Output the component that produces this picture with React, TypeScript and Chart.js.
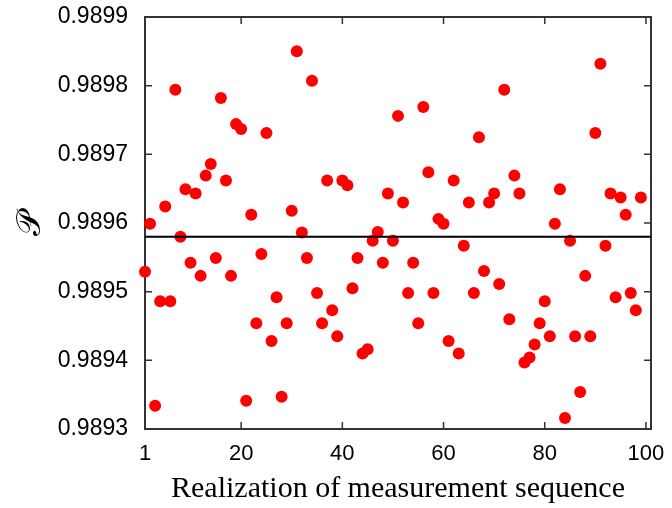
import { useEffect, useRef } from "react";
import { Chart, registerables } from "chart.js";

Chart.register(...registerables);

// Fidelity value for each realization (x = 1 .. 99)
const fidelity: number[] = [
  0.989529, 0.989599, 0.989334, 0.989486, 0.989624, 0.989486, 0.989794, 0.98958, 0.989649, 0.989542,
  0.989643, 0.989523, 0.989669, 0.989686, 0.989549, 0.989782, 0.989662, 0.989523, 0.989744, 0.989737,
  0.989341, 0.989612, 0.989454, 0.989555, 0.989731, 0.989428, 0.989492, 0.989347, 0.989454, 0.989618,
  0.98985, 0.989586, 0.989549, 0.989807, 0.989498, 0.989454, 0.989662, 0.989473, 0.989435, 0.989662,
  0.989655, 0.989505, 0.989549, 0.98941, 0.989416, 0.989574, 0.989587, 0.989542, 0.989643, 0.989574,
  0.989756, 0.98963, 0.989498, 0.989542, 0.989454, 0.989769, 0.989674, 0.989498, 0.989606, 0.989599,
  0.989428, 0.989662, 0.98941, 0.989567, 0.98963, 0.989498, 0.989725, 0.98953, 0.98963, 0.989643,
  0.989511, 0.989794, 0.98946, 0.989669, 0.989643, 0.989397, 0.989404, 0.989423, 0.989454, 0.989486,
  0.989435, 0.989599, 0.989649, 0.989316, 0.989574, 0.989435, 0.989354, 0.989523, 0.989435, 0.989731,
  0.989832, 0.989567, 0.989643, 0.989492, 0.989637, 0.989612, 0.989498, 0.989473, 0.989637,
];
const realization: number[] = fidelity.map((_, i) => i + 1);
const meanFidelity = 0.98958;
const xTicks = [1, 20, 40, 60, 80, 100];
const yTicks = [0.9893, 0.9894, 0.9895, 0.9896, 0.9897, 0.9898, 0.9899];
const xRange = [1, 101];
const yRange = [0.9893, 0.9899];

const framePlugin = {
  id: "frame",
  beforeDatasetsDraw(chart: any) {
    const { ctx, chartArea: a, scales } = chart;
    const tl = 7;
    ctx.save();
    ctx.strokeStyle = "#333333";
    ctx.lineWidth = 1.5;
    ctx.beginPath();
    for (const v of yTicks) {
      const y = scales.y.getPixelForValue(v);
      ctx.moveTo(a.left, y);
      ctx.lineTo(a.left + tl, y);
      ctx.moveTo(a.right, y);
      ctx.lineTo(a.right - tl, y);
    }
    for (const v of xTicks) {
      const x = scales.x.getPixelForValue(v);
      ctx.moveTo(x, a.bottom);
      ctx.lineTo(x, a.bottom - tl);
      ctx.moveTo(x, a.top);
      ctx.lineTo(x, a.top + tl);
    }
    ctx.stroke();
    ctx.lineWidth = 2;
    ctx.strokeRect(a.left, a.top, a.right - a.left, a.bottom - a.top);
    ctx.restore();
  },
};

export default function App() {
  const ref = useRef<HTMLCanvasElement | null>(null);
  useEffect(() => {
    if (!ref.current) return;
    const chart = new Chart(ref.current, {
      type: "scatter",
      data: {
        datasets: [
          {
            type: "line",
            data: [
              { x: xRange[0], y: meanFidelity },
              { x: xRange[1], y: meanFidelity },
            ],
            borderColor: "#000000",
            borderWidth: 2,
            pointRadius: 0,
            fill: false,
          } as any,
          {
            data: realization.map((x, i) => ({ x, y: fidelity[i] })),
            backgroundColor: "#ff0000",
            borderWidth: 0,
            pointRadius: 6,
            pointHoverRadius: 6,
            clip: false as any,
          },
        ],
      },
      options: {
        responsive: false,
        animation: false,
        events: [],
        layout: { padding: { top: 17, right: 21, left: 0, bottom: 0 } },
        plugins: { legend: { display: false }, tooltip: { enabled: false } },
        scales: {
          x: {
            type: "linear",
            min: xRange[0],
            max: xRange[1],
            afterBuildTicks: (s: any) => {
              s.ticks = xTicks.map((v) => ({ value: v }));
            },
            afterFit: (s: any) => {
              s.height = 79;
              s.paddingLeft = 0;
              s.paddingRight = 0;
            },
            grid: { display: false, drawTicks: false },
            border: { display: false },
            ticks: {
              padding: 12,
              color: "#000000",
              font: { family: "'Liberation Sans', Arial, sans-serif", size: 22 },
              callback: (v: any) => String(v),
              maxRotation: 0,
              autoSkip: false,
            },
            title: {
              display: true,
              text: "Realization of measurement sequence",
              color: "#000000",
              font: { family: "'Liberation Serif', serif", size: 30, lineHeight: 1 },
              padding: { top: 0, bottom: 4 },
            },
          },
          y: {
            type: "linear",
            min: yRange[0],
            max: yRange[1],
            afterBuildTicks: (s: any) => {
              s.ticks = yTicks.map((v) => ({ value: v }));
            },
            afterFit: (s: any) => {
              s.width = 145;
              s.paddingTop = 0;
              s.paddingBottom = 0;
            },
            grid: { display: false, drawTicks: false },
            border: { display: false },
            ticks: {
              padding: 17,
              color: "#000000",
              font: { family: "'Liberation Sans', Arial, sans-serif", size: 23 },
              callback: (v: any) => Number(v).toFixed(4),
              autoSkip: false,
            },
            title: {
              display: true,
              text: "𝒫",
              color: "#000000",
              font: { family: "'DejaVu Serif', 'DejaVu Sans', serif", size: 34, lineHeight: 1 },
              padding: { top: 14, bottom: 0 },
            },
          },
        },
      },
      plugins: [framePlugin],
    });
    return () => chart.destroy();
  }, []);
  return (
    <div style={{ position: "fixed", left: 0, top: 0, width: 672, height: 508, background: "#ffffff" }}>
      <canvas ref={ref} width={672} height={508} style={{ width: 672, height: 508, display: "block" }} />
    </div>
  );
}
